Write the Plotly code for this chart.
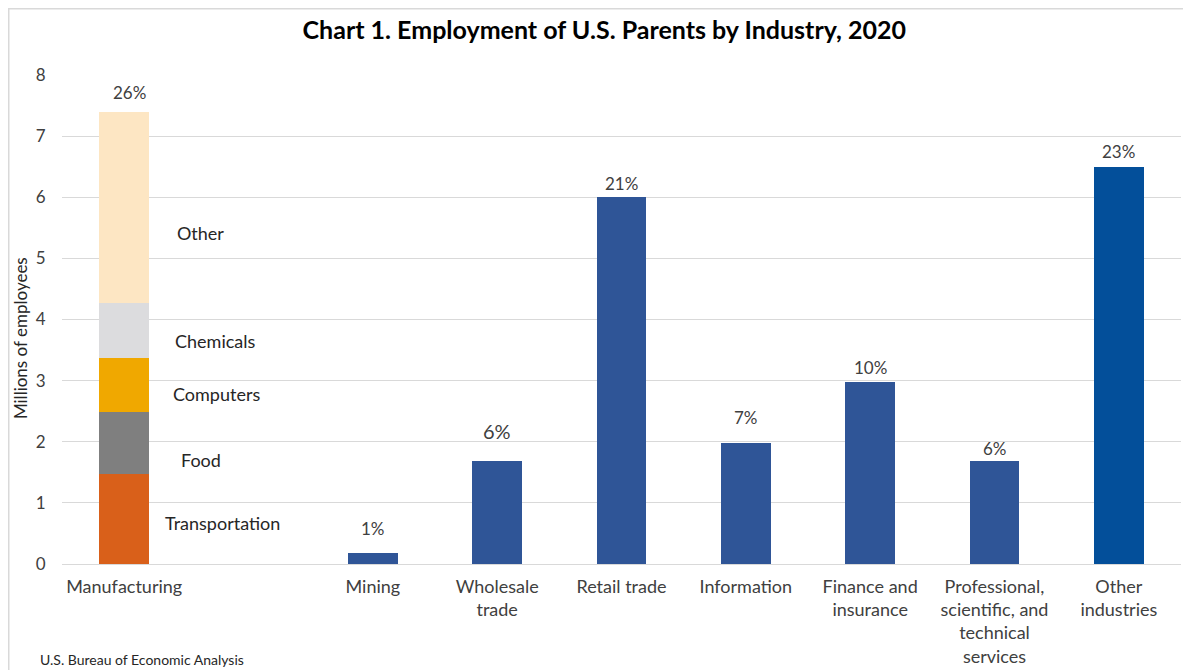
import plotly.graph_objects as go

# ---------------- data ----------------
categories = ["Manufacturing", "", "Mining", "Wholesale<br>trade", "Retail trade",
              "Information", "Finance and<br>insurance",
              "Professional,<br>scientific, and<br>technical<br>services",
              "Other<br>industries"]

mfg_segments = ["Transportation", "Food", "Computers", "Chemicals", "Other"]
mfg_values = [1.48, 1.0, 0.89, 0.90, 3.13]
mfg_colors = ["#D9601A", "#7F7F7F", "#F0A800", "#DCDCDE", "#FDE6C3"]

industry_names = ["Mining", "Wholesale<br>trade", "Retail trade", "Information",
                  "Finance and<br>insurance",
                  "Professional,<br>scientific, and<br>technical<br>services",
                  "Other<br>industries"]
industry_values = [0.18, 1.68, 6.0, 1.98, 2.98, 1.68, 6.5]
industry_colors = ["#2F5597"] * 6 + ["#034F9A"]

pct_labels = ["26%", "1%", "6%", "21%", "7%", "10%", "6%", "23%"]

y_ticks = [0, 1, 2, 3, 4, 5, 6, 7, 8]

# ---------------- styles ----------------
FONT = "Lato"
pct_gap = [19, 25, 30, 14, 25, 14, 13, 15]          # pixel gap above bar top
pct_size = [17, 17, 20, 17, 17, 17, 17, 17]
seg_xshift = [39, 55, 47, 49, 51]                    # left edge offset from bar center (px)
seg_yshift = [-4, -17, -9, -10, -26]

cat_pos = {c: i for i, c in enumerate(categories)}

fig = go.Figure()

# Manufacturing stacked segments
for name, val, col in zip(mfg_segments, mfg_values, mfg_colors):
    fig.add_trace(go.Bar(x=[cat_pos["Manufacturing"]], y=[val], name=name,
                         marker=dict(color=col, line=dict(width=0)),
                         width=0.4, showlegend=False, hoverinfo="y+name"))

# Other industries
fig.add_trace(go.Bar(x=[cat_pos[n] for n in industry_names], y=industry_values,
                     marker=dict(color=industry_colors, line=dict(width=0)),
                     width=0.4, showlegend=False))

# percent labels
tops = [sum(mfg_values)] + industry_values
xs = [cat_pos["Manufacturing"]] + [cat_pos[n] for n in industry_names]
for x, t, lab, gap, sz in zip(xs, tops, pct_labels, pct_gap, pct_size):
    fig.add_annotation(x=x, y=t, text=lab, showarrow=False, yanchor="middle",
                       yshift=gap, xshift=(5 if x == 0 else 0),
                       font=dict(family=FONT, size=sz, color="#404040"))

# segment labels
base = 0
for name, val, xsft, ysft in zip(mfg_segments, mfg_values, seg_xshift, seg_yshift):
    fig.add_annotation(x=cat_pos["Manufacturing"], y=base + val / 2, text=name,
                       showarrow=False, xanchor="left", yanchor="middle",
                       xshift=xsft, yshift=ysft,
                       font=dict(family=FONT, size=18, color="#262626"))
    base += val

# y-axis title
fig.add_annotation(xref="paper", yref="paper", x=-0.0375, y=0.462,
                   text="Millions of employees", textangle=-90, showarrow=False,
                   xanchor="center", yanchor="middle",
                   font=dict(family=FONT, size=17, color="#262626"))

# source note
fig.add_annotation(xref="paper", yref="paper", x=-0.0214, y=-0.196,
                   text="U.S. Bureau of Economic Analysis", showarrow=False,
                   xanchor="left", yanchor="middle",
                   font=dict(family=FONT, size=14, color="#262626"))

# chart border (top & left visible)
fig.add_shape(type="rect", xref="paper", yref="paper",
              x0=-0.0476, x1=1.03, y0=-0.3, y1=1.1355,
              line=dict(color="#D9D9D9", width=1.5), layer="below")

fig.update_layout(
    width=1183, height=662,
    barmode="stack",
    paper_bgcolor="white", plot_bgcolor="white",
    margin=dict(l=54, r=10, t=67, b=106, autoexpand=False),
    title=dict(text="<b>Chart 1. Employment of U.S. Parents by Industry, 2020</b>",
               x=0.504, xref="container", xanchor="center",
               y=0.9668, yref="container", yanchor="middle",
               font=dict(family=FONT, size=25, color="#000000")),
    xaxis=dict(range=[-0.5, 8.5], tickmode="array", automargin=False,
               tickvals=list(range(len(categories))), ticktext=categories,
               showgrid=False, zeroline=False, showline=False,
               ticks="outside", ticklen=6, tickcolor="rgba(0,0,0,0)",
               tickfont=dict(family=FONT, size=18, color="#404040")),
    yaxis=dict(range=[0, 8], tickvals=y_ticks, showgrid=True, automargin=False,
               gridcolor="#D9D9D9", gridwidth=1.2, zeroline=True,
               zerolinecolor="#D9D9D9", zerolinewidth=1.2, showline=False,
               ticks="outside", ticklen=12, tickcolor="rgba(0,0,0,0)",
               tickfont=dict(family=FONT, size=17, color="#404040")),
    font=dict(family=FONT),
)

fig.write_html("out.html")
